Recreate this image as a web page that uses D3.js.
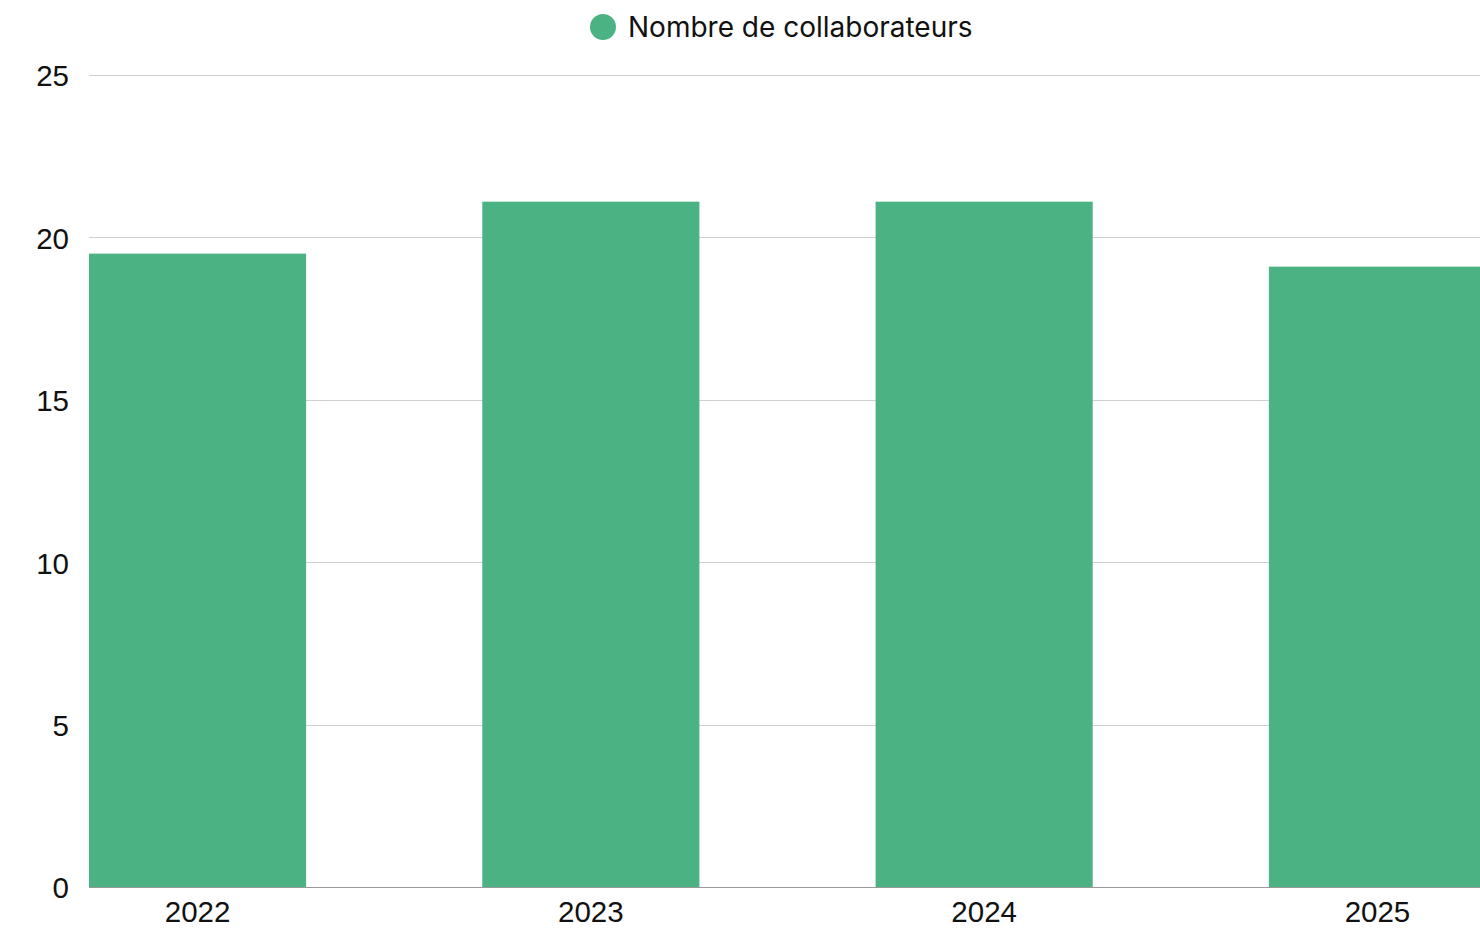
<!DOCTYPE html>
<html><head><meta charset="utf-8">
<script src="https://cdn.jsdelivr.net/npm/d3@7"></script>
<style>html,body{margin:0;padding:0;background:#fff;overflow:hidden}</style>
</head><body>
<svg id="c" width="1480" height="929"></svg>
<script>
const categories = ["2022", "2023", "2024", "2025"];
const values = [19.5, 21.1, 21.1, 19.1];
const yTicks = [0, 5, 10, 15, 20, 25];
const seriesName = "Nombre de collaborateurs";
const color = "#4ab283";

const svg = d3.select("#c");
const x = d3.scaleBand().domain(categories).range([89, 1486]).paddingInner(0.448).paddingOuter(0);
const y = d3.scaleLinear().domain([0, 25]).range([887, 75]);

// gridlines
svg.append("g").selectAll("line").data(yTicks.filter(d => d > 0)).join("line")
  .attr("x1", 89).attr("x2", 1480)
  .attr("y1", d => Math.round(y(d)) + 0.5).attr("y2", d => Math.round(y(d)) + 0.5)
  .attr("stroke", "#d0d0d0").attr("stroke-width", 1);

// y labels
svg.append("g").selectAll("text").data(yTicks).join("text")
  .attr("x", 69).attr("y", d => y(d) + 1).attr("dy", "0.35em")
  .attr("text-anchor", "end")
  .attr("font-family", "Liberation Sans, Arial, sans-serif").attr("font-size", 29.5).attr("fill", "#111")
  .text(d => d);

// bars
svg.append("g").selectAll("rect").data(values).join("rect")
  .attr("x", (d, i) => x(categories[i])).attr("width", x.bandwidth())
  .attr("y", d => y(d)).attr("height", d => y(0) - y(d))
  .attr("fill", color);

// baseline
svg.append("line").attr("x1", 89).attr("x2", 1480).attr("y1", 887.5).attr("y2", 887.5)
  .attr("stroke", "#999").attr("stroke-width", 1);

// x labels
svg.append("g").selectAll("text").data(categories).join("text")
  .attr("x", d => x(d) + x.bandwidth() / 2).attr("y", 922)
  .attr("text-anchor", "middle")
  .attr("font-family", "Liberation Sans, Arial, sans-serif").attr("font-size", 29.5).attr("fill", "#111")
  .text(d => d);

// legend
const lg = svg.append("g");
lg.append("circle").attr("cx", 603).attr("cy", 27).attr("r", 13).attr("fill", color);
lg.append("text").attr("x", 628).attr("y", 27).attr("dy", "0.35em")
  .attr("font-family", "Inter, sans-serif").attr("font-size", 28).attr("fill", "#111")
  .text(seriesName);
</script>
</body></html>
